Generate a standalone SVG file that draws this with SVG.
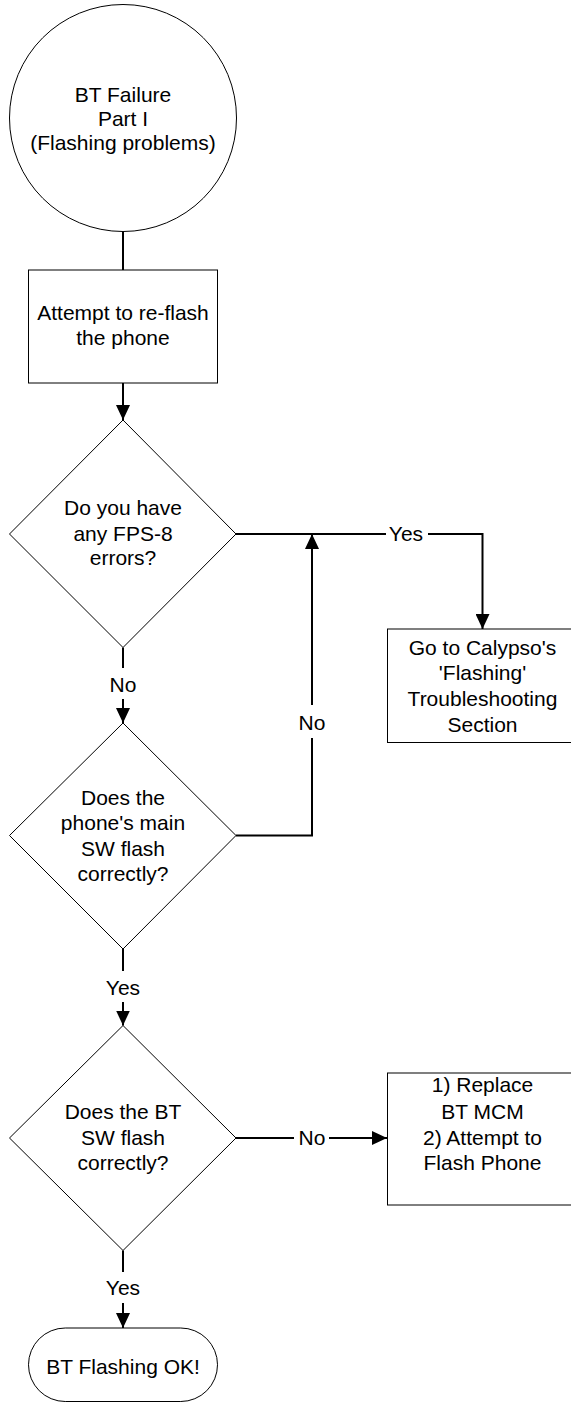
<svg xmlns="http://www.w3.org/2000/svg" width="571" height="1403" viewBox="0 0 571 1403">
<defs>
<style>
.s{fill:#fff;stroke:#000;stroke-width:1}
.c{fill:none;stroke:#000;stroke-width:2}
text{font-family:"Liberation Sans",Arial,sans-serif;font-size:21px;fill:#000;text-anchor:middle}
</style>
<marker id="ah" markerUnits="userSpaceOnUse" markerWidth="15" markerHeight="14" refX="15" refY="7" orient="auto">
<path d="M0,0 L15,7 L0,14 z" fill="#000"/>
</marker>
</defs>
<rect width="571" height="1403" fill="#fff"/>
<g id="connectors">
<path class="c" d="M123,231.5 V270"/>
<path class="c" d="M123,383 V420" marker-end="url(#ah)"/>
<path class="c" d="M236,534 H386"/>
<path class="c" d="M428,534 H482.5 V629" marker-end="url(#ah)"/>
<path class="c" d="M123,647.5 V668"/>
<path class="c" d="M123,699 V723" marker-end="url(#ah)"/>
<path class="c" d="M236,835.5 H312 V738"/>
<path class="c" d="M312,705 V534" marker-end="url(#ah)"/>
<path class="c" d="M123,949 V971"/>
<path class="c" d="M123,1002 V1025.5" marker-end="url(#ah)"/>
<path class="c" d="M236,1138 H294"/>
<path class="c" d="M329,1138 H387" marker-end="url(#ah)"/>
<path class="c" d="M123,1250.5 V1272"/>
<path class="c" d="M123,1303 V1328" marker-end="url(#ah)"/>
<text x="406" y="541">Yes</text>
<text x="123" y="692">No</text>
<text x="312" y="730">No</text>
<text x="123" y="995">Yes</text>
<text x="312" y="1145">No</text>
<text x="123" y="1295">Yes</text>
</g>
<g id="start">
<circle class="s" cx="123" cy="118" r="113.5"/>
<text x="123" y="102">BT Failure</text>
<text x="123" y="126">Part I</text>
<text x="123" y="150">(Flashing problems)</text>
</g>
<g id="reflash">
<rect class="s" x="28.5" y="270" width="189" height="113"/>
<text x="123" y="320">Attempt to re-flash</text>
<text x="123" y="345">the phone</text>
</g>
<g id="fps8">
<path class="s" d="M123,420 L236,534 L123,647.5 L9.5,534 Z"/>
<text x="123" y="515">Do you have</text>
<text x="123" y="540.5">any FPS-8</text>
<text x="123" y="565">errors?</text>
</g>
<g id="calypso">
<rect class="s" x="387.5" y="629" width="192" height="113.5"/>
<text x="482.5" y="655">Go to Calypso's</text>
<text x="482.5" y="680">'Flashing'</text>
<text x="482.5" y="706">Troubleshooting</text>
<text x="482.5" y="731.5">Section</text>
</g>
<g id="mainsw">
<path class="s" d="M123,723 L236,835.5 L123,949 L9.5,835.5 Z"/>
<text x="123" y="805">Does the</text>
<text x="123" y="830">phone's main</text>
<text x="123" y="855.5">SW flash</text>
<text x="123" y="881">correctly?</text>
</g>
<g id="btsw">
<path class="s" d="M123,1025.5 L236,1138 L123,1250.5 L9.5,1138 Z"/>
<text x="123" y="1119">Does the BT</text>
<text x="123" y="1145">SW flash</text>
<text x="123" y="1170">correctly?</text>
</g>
<g id="replace">
<rect class="s" x="387.5" y="1073" width="192" height="132"/>
<text x="482.5" y="1092">1) Replace</text>
<text x="482.5" y="1119">BT MCM</text>
<text x="482.5" y="1145">2) Attempt to</text>
<text x="482.5" y="1170">Flash Phone</text>
</g>
<g id="ok">
<rect class="s" x="28.5" y="1328" width="189" height="73.5" rx="36.75" ry="36.75"/>
<text x="123" y="1373.5">BT Flashing OK!</text>
</g>
</svg>
